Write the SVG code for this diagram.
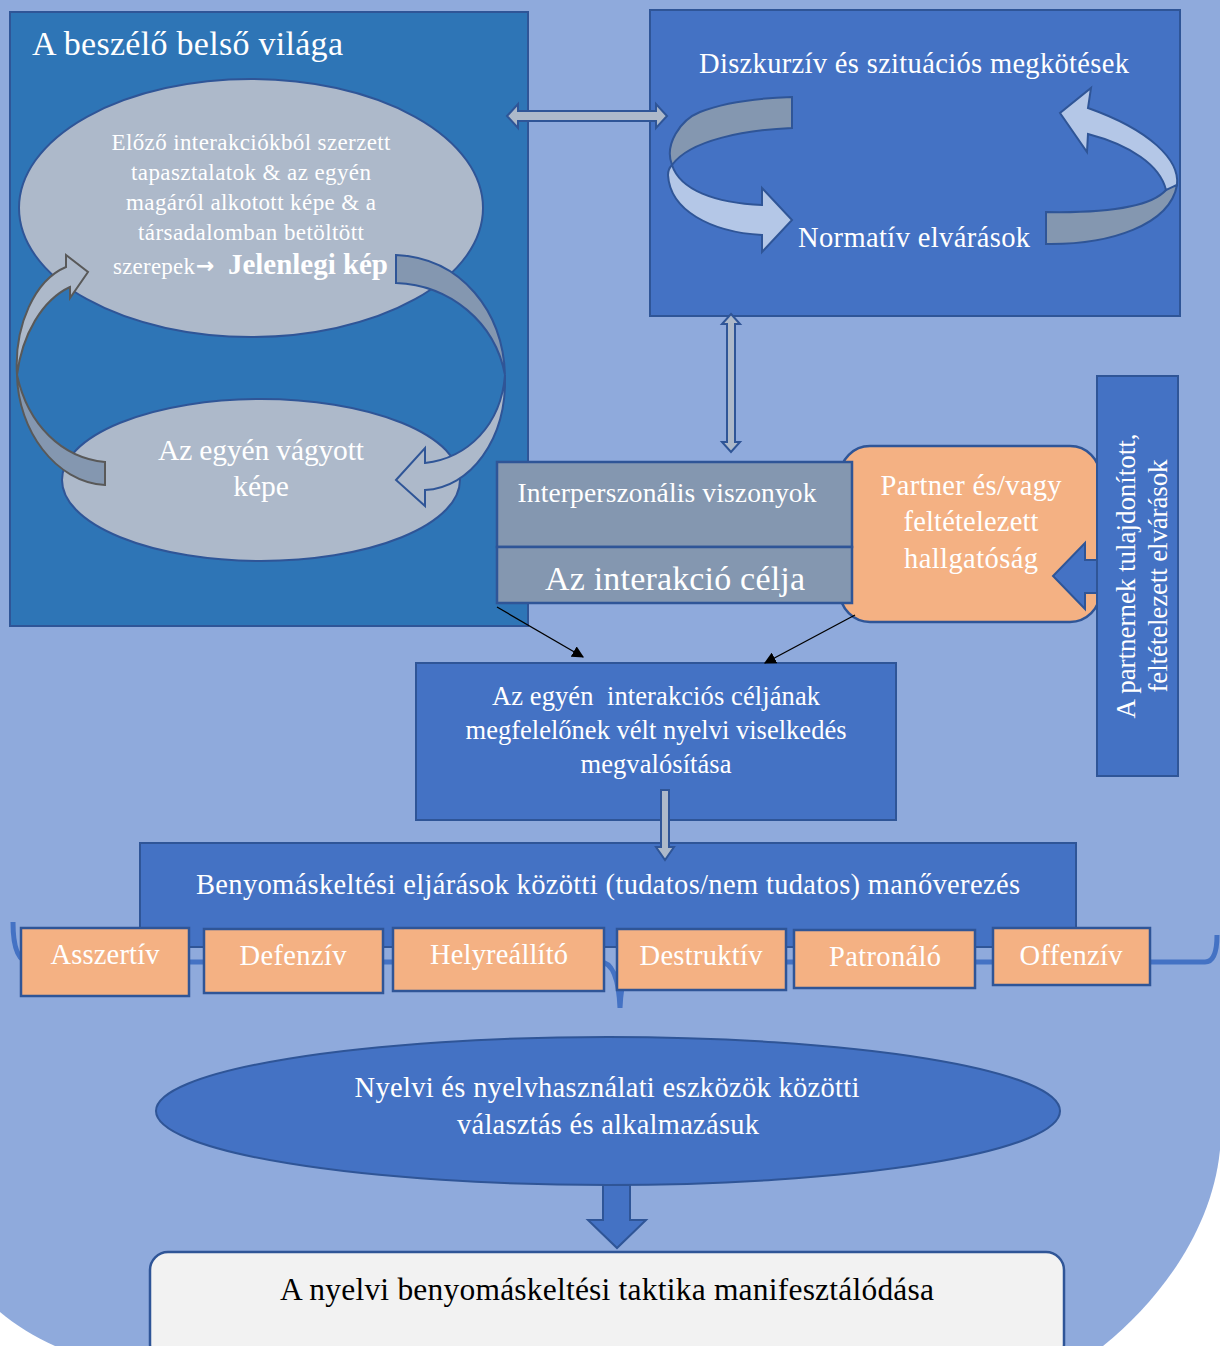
<svg xmlns="http://www.w3.org/2000/svg" width="1220" height="1346" viewBox="0 0 1220 1346">
<defs>
<style>
text{font-family:"Liberation Serif","Times New Roman",serif;fill:#ffffff;}
.box{fill:#4472c4;stroke:#2f5597;stroke-width:2;}
.gbox{fill:#8497b0;stroke:#2f5597;stroke-width:2.5;}
.obox{fill:#f4b183;stroke:#2f5597;stroke-width:2.5;}
.ell{fill:#adb9ca;stroke:#2f5597;stroke-width:2;}
.dark{fill:#8497b0;stroke:#2f5597;stroke-width:2;}
.light{fill:#b4c7e7;stroke:#2f5597;stroke-width:2;}
.ldark{fill:#8497b0;stroke:#595959;stroke-width:2;}
.llight{fill:#adb9ca;stroke:#595959;stroke-width:2;}
.blk{stroke:#000;stroke-width:1.3;fill:none;marker-end:url(#tri);}
.c{text-anchor:middle;}
.t{font-size:28.5px;}
</style>
<marker id="tri" viewBox="0 0 10 10" refX="9" refY="5" markerWidth="12" markerHeight="12" markerUnits="userSpaceOnUse" orient="auto">
<path d="M0,0 L10,5 L0,10 Z" fill="#000"/>
</marker>
</defs>
<rect x="0" y="0" width="1220" height="1346" fill="#ffffff"/>
<path d="M0,0 H1220 V1150 C1212,1230 1160,1300 1103,1346 H55 C35,1337 15,1325 0,1312 Z" fill="#8faadc"/>

<g id="inner-world">
<rect x="10" y="12" width="518" height="614" fill="#2e75b6" stroke="#2f5597" stroke-width="2"/>
<text x="32" y="55" font-size="34" textLength="311">A beszélő belső világa</text>
</g>

<g id="current-image">
<ellipse cx="251" cy="208" rx="232" ry="129" class="ell"/>
<text class="c" x="251" y="150" font-size="23" textLength="279">Előző interakciókból szerzett</text>
<text class="c" x="251" y="180" font-size="23" textLength="240">tapasztalatok &amp; az egyén</text>
<text class="c" x="251" y="210" font-size="23" textLength="250">magáról alkotott képe &amp; a</text>
<text class="c" x="251" y="240" font-size="23" textLength="226">társadalomban betöltött</text>
<text x="113" y="274" font-size="23" textLength="82">szerepek</text>
<text x="196" y="273" font-size="22" style="font-family:'DejaVu Sans',sans-serif" font-weight="bold">→</text>
<text x="228" y="274" font-size="29" font-weight="bold" textLength="160">Jelenlegi kép</text>
</g>

<g id="desired-image">
<ellipse cx="261" cy="480" rx="199" ry="81" class="ell"/>
<text class="c" x="261" y="460" font-size="29.5" textLength="206">Az egyén vágyott</text>
<text class="c" x="261" y="496" font-size="29.5">képe</text>
</g>

<g id="constraints">
<rect x="650" y="10" width="530" height="306" class="box"/>
<text class="c t" x="914" y="73" textLength="430">Diszkurzív és szituációs megkötések</text>
<text class="c t" x="914" y="247" textLength="232">Normatív elvárások</text>
<path class="dark" d="M792,97 L792,128 C745,130 690,140 672,165 C664,145 680,120 700,112 C725,102 760,98 792,97 Z"/>
<path class="light" d="M672,165 C680,190 715,203 762,205 L762,188 L792,220 L762,252 L762,235 C710,232 670,210 668,175 C668,170 670,167 672,165 Z"/>
<path class="dark" d="M1046,212 L1046,244 C1110,245 1170,225 1177,185 C1175,180 1170,185 1166,190 C1150,208 1100,213 1046,212 Z"/>
<path class="light" d="M1177,185 C1180,160 1150,130 1088,108 L1091,88 L1060,113 L1087,152 L1088,134 C1130,145 1160,165 1166,190 C1170,188 1175,186 1177,185 Z"/>
</g>

<g id="interpersonal">
<rect x="840" y="446" width="260" height="176" rx="30" class="obox"/>
<rect x="497" y="462" width="355" height="85" class="gbox"/>
<text class="c" x="667" y="502" font-size="27.5" textLength="299">Interperszonális viszonyok</text>
</g>

<g id="interaction-goal">
<rect x="497" y="547" width="355" height="56" class="gbox"/>
<text class="c" x="675" y="590" font-size="34" textLength="260">Az interakció célja</text>
</g>

<g id="partner">
<text class="c t" x="971" y="495" textLength="181">Partner és/vagy</text>
<text class="c t" x="971" y="531" textLength="135">feltételezett</text>
<text class="c t" x="971" y="568" textLength="134">hallgatóság</text>
</g>

<g id="partner-expectations">
<rect x="1097" y="376" width="81" height="400" class="box"/>
<g transform="translate(1137,576) rotate(-90)">
<text class="c" x="0" y="-2" font-size="27" textLength="285">A partnernek tulajdonított,</text>
<text class="c" x="0" y="30" font-size="27" textLength="233">feltételezett elvárások</text>
</g>
</g>

<g id="behaviour">
<rect x="416" y="663" width="480" height="157" class="box"/>
<text class="c" x="656" y="705" font-size="26.5" textLength="328">Az egyén&#160; interakciós céljának</text>
<text class="c" x="656" y="739" font-size="26.5" textLength="381">megfelelőnek vélt nyelvi viselkedés</text>
<text class="c" x="656" y="773" font-size="26.5" textLength="151">megvalósítása</text>
</g>

<g id="brace">
<path d="M13,922 Q13,962 30,962 L600,962 Q618,962 620,1008 Q622,962 640,962 L1205,962 Q1217,962 1217,935" fill="none" stroke="#4472c4" stroke-width="5"/>
</g>

<g id="maneuvering">
<rect x="140" y="843" width="936" height="104" class="box"/>
<text class="c" x="608" y="894" font-size="28.5" textLength="824">Benyomáskeltési eljárások közötti (tudatos/nem tudatos) manőverezés</text>
</g>

<g id="tactics">
<g id="t-asszertiv"><rect x="21" y="928" width="168" height="68" class="obox"/><text class="c t" x="105" y="964" textLength="109">Asszertív</text></g>
<g id="t-defenziv"><rect x="204" y="929" width="179" height="64" class="obox"/><text class="c t" x="293" y="965" textLength="107">Defenzív</text></g>
<g id="t-helyreallito"><rect x="393" y="928" width="211" height="63" class="obox"/><text class="c t" x="499" y="964" textLength="138">Helyreállító</text></g>
<g id="t-destruktiv"><rect x="617" y="929" width="169" height="61" class="obox"/><text class="c t" x="701" y="965" textLength="123">Destruktív</text></g>
<g id="t-patronalo"><rect x="794" y="930" width="181" height="58" class="obox"/><text class="c t" x="885" y="966" textLength="112">Patronáló</text></g>
<g id="t-offenziv"><rect x="993" y="928" width="157" height="57" class="obox"/><text class="c t" x="1071" y="965" textLength="103">Offenzív</text></g>
</g>

<g id="language-tools">
<ellipse cx="608" cy="1111" rx="452" ry="74" class="box"/>
<text class="c t" x="607" y="1097" textLength="505">Nyelvi és nyelvhasználati eszközök közötti</text>
<text class="c t" x="608" y="1134" textLength="302">választás és alkalmazásuk</text>
</g>

<g id="manifestation">
<rect x="150" y="1252" width="914" height="110" rx="18" fill="#f2f2f2" stroke="#2f5597" stroke-width="2.5"/>
<text class="c" x="607" y="1300" font-size="31.5" textLength="654" style="fill:#000">A nyelvi benyomáskeltési taktika manifesztálódása</text>
</g>

<g id="connectors">
<path class="ldark" d="M17,375 C18,430 55,482 105,485 L105,462 C62,458 28,425 17,375 Z"/>
<path class="llight" d="M17,375 C14,325 35,280 66,267 L66,255 L88,272 L70,298 L70,287 C42,300 22,335 17,375 Z"/>
<path class="dark" d="M396,255 L396,283 C450,285 495,322 505,375 C503,312 462,258 396,255 Z"/>
<path class="ell" d="M505,375 C507,440 470,488 425,490 L425,506 L396,480 L425,448 L425,463 C468,458 501,425 505,375 Z"/>
<path d="M507,116 L518,104 L518,111 L656,111 L656,104 L667,116 L656,128 L656,121 L518,121 L518,128 Z" fill="#adb9ca" stroke="#2f5597" stroke-width="2"/>
<path d="M731,314 L740,324 L735,324 L735,442 L740,442 L731,452 L722,442 L727,442 L727,324 L722,324 Z" fill="#adb9ca" stroke="#2f5597" stroke-width="2"/>
<path d="M1097,560 L1085,560 L1085,543 L1053,576 L1085,609 L1085,593 L1097,593 Z" fill="#4472c4" stroke="#2f5597" stroke-width="2"/>
<line class="blk" x1="497" y1="607" x2="583" y2="657"/>
<line class="blk" x1="855" y1="615" x2="765" y2="663"/>
<path d="M661,790 L669,790 L669,847 L674,847 L665,860 L656,847 L661,847 Z" fill="#adb9ca" stroke="#2f5597" stroke-width="2"/>
<path d="M603,1185 L630,1185 L630,1220 L646,1220 L617,1248 L588,1220 L603,1220 Z" fill="#4472c4" stroke="#2f5597" stroke-width="2"/>
</g>
</svg>
